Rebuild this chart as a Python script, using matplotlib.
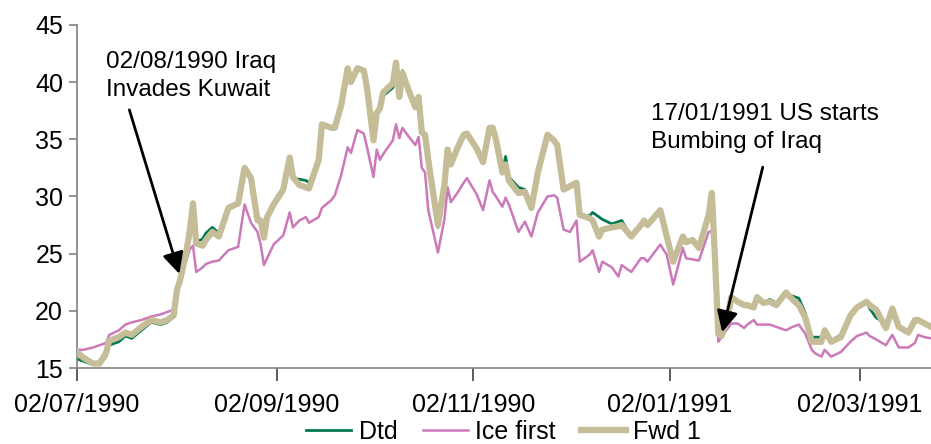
import matplotlib
matplotlib.use("Agg")
import matplotlib.pyplot as plt
import matplotlib.dates as mdates
import pandas as pd

plt.rcParams['font.family'] = ['Liberation Sans', 'DejaVu Sans']

# --- data (USD/bbl) ---
dates = [
    "02/07/1990", "04/07/1990", "07/07/1990", "09/07/1990", "11/07/1990", "12/07/1990",
    "15/07/1990", "17/07/1990", "19/07/1990", "22/07/1990", "25/07/1990", "28/07/1990",
    "30/07/1990", "01/08/1990", "02/08/1990", "03/08/1990", "05/08/1990", "06/08/1990",
    "07/08/1990", "08/08/1990", "10/08/1990", "11/08/1990", "13/08/1990", "15/08/1990",
    "18/08/1990", "21/08/1990", "23/08/1990", "25/08/1990", "27/08/1990", "28/08/1990",
    "29/08/1990", "30/08/1990", "01/09/1990", "04/09/1990", "06/09/1990", "07/09/1990",
    "09/09/1990", "11/09/1990", "12/09/1990", "15/09/1990", "16/09/1990", "19/09/1990",
    "20/09/1990", "22/09/1990", "24/09/1990", "25/09/1990", "27/09/1990", "29/09/1990",
    "30/09/1990", "02/10/1990", "03/10/1990", "04/10/1990", "05/10/1990", "08/10/1990",
    "09/10/1990", "10/10/1990", "11/10/1990", "13/10/1990", "15/10/1990", "16/10/1990",
    "17/10/1990", "18/10/1990", "19/10/1990", "22/10/1990", "24/10/1990", "25/10/1990",
    "26/10/1990", "28/10/1990", "30/10/1990", "31/10/1990", "03/11/1990", "05/11/1990",
    "07/11/1990", "08/11/1990", "09/11/1990", "11/11/1990", "12/11/1990", "13/11/1990",
    "16/11/1990", "18/11/1990", "20/11/1990", "22/11/1990", "25/11/1990", "27/11/1990",
    "28/11/1990", "30/11/1990", "02/12/1990", "04/12/1990", "05/12/1990", "08/12/1990",
    "09/12/1990", "11/12/1990", "12/12/1990", "15/12/1990", "17/12/1990", "18/12/1990",
    "21/12/1990", "24/12/1990", "25/12/1990", "26/12/1990", "30/12/1990", "01/01/1991",
    "03/01/1991", "06/01/1991", "07/01/1991", "09/01/1991", "11/01/1991", "14/01/1991",
    "15/01/1991", "16/01/1991", "17/01/1991", "18/01/1991", "20/01/1991", "21/01/1991",
    "23/01/1991", "25/01/1991", "26/01/1991", "28/01/1991", "29/01/1991", "31/01/1991",
    "02/02/1991", "04/02/1991", "07/02/1991", "09/02/1991", "11/02/1991", "13/02/1991",
    "15/02/1991", "16/02/1991", "18/02/1991", "19/02/1991", "21/02/1991", "24/02/1991",
    "27/02/1991", "01/03/1991", "04/03/1991", "05/03/1991", "07/03/1991", "10/03/1991",
    "12/03/1991", "14/03/1991", "17/03/1991", "19/03/1991", "20/03/1991", "22/03/1991",
    "24/03/1991",
]

fwd1 = [
    16.4, 15.9, 15.4, 15.4, 16.3, 17.4, 17.7, 18.1, 17.9, 18.6, 19.2, 19.0,
    19.2, 19.6, 21.8, 22.7, 25.3, 27.0, 29.4, 25.9, 25.7, 26.2, 26.9, 26.5,
    29.0, 29.4, 32.5, 31.6, 27.9, 27.9, 26.4, 28.2, 29.3, 30.6, 33.4, 31.7,
    31.0, 30.8, 30.7, 33.2, 36.3, 36.0, 36.0, 38.0, 41.2, 40.0, 41.2, 41.0,
    39.5, 34.9, 37.3, 37.7, 39.1, 39.9, 41.7, 38.7, 40.8, 39.2, 37.8, 38.7,
    35.6, 35.4, 33.2, 27.5, 31.0, 34.1, 32.8, 34.2, 35.4, 35.5, 34.2, 33.0,
    36.0, 36.0, 35.0, 32.1, 32.8, 31.4, 30.3, 30.4, 29.0, 32.1, 35.4, 34.9,
    34.5, 30.6, 30.9, 31.2, 28.4, 28.1, 27.9, 26.5, 27.1, 27.3, 27.4, 27.5,
    26.5, 27.5, 27.9, 27.5, 28.8, 26.5, 24.3, 26.5, 26.0, 26.2, 25.5, 28.4,
    30.3, 24.4, 18.0, 17.8, 19.5, 21.2, 20.8, 20.5, 20.5, 20.3, 21.2, 20.7,
    20.8, 20.5, 21.6, 21.0, 20.5, 19.4, 17.3, 17.3, 17.3, 18.3, 17.3, 17.7,
    19.6, 20.3, 20.8, 20.5, 20.1, 18.5, 20.2, 18.6, 18.1, 19.2, 19.2, 18.9,
    18.6,
]

dtd = [
    15.8, 15.6, 15.3, 15.3, 16.0, 17.0, 17.3, 17.8, 17.6, 18.3, 19.0, 18.8,
    19.0, 19.5, 21.8, 22.7, 25.3, 27.0, 29.3, 26.0, 26.3, 26.8, 27.3, 26.8,
    29.0, 29.4, 32.5, 31.6, 28.0, 27.9, 26.5, 28.2, 29.3, 30.6, 33.4, 31.6,
    31.5, 31.4, 31.2, 33.2, 36.3, 36.0, 36.2, 38.0, 41.2, 40.0, 41.3, 41.1,
    39.5, 35.3, 37.3, 37.5, 38.8, 39.5, 41.0, 39.0, 41.0, 39.5, 38.0, 38.7,
    35.6, 35.4, 33.2, 27.3, 31.0, 34.1, 32.8, 34.2, 35.4, 35.5, 34.2, 33.0,
    36.0, 36.0, 35.0, 32.1, 33.5, 31.7, 30.8, 30.6, 29.1, 32.1, 35.4, 34.9,
    34.5, 30.6, 30.9, 31.2, 28.4, 28.3, 28.6, 28.2, 28.0, 27.6, 27.8, 27.9,
    26.5, 27.5, 27.9, 27.5, 28.8, 26.5, 24.3, 26.5, 26.0, 26.2, 25.5, 28.4,
    30.3, 24.4, 18.0, 17.8, 19.5, 21.2, 20.8, 20.5, 20.5, 20.3, 21.2, 20.7,
    21.0, 20.7, 21.5, 21.3, 21.1, 19.8, 17.7, 17.7, 17.7, 18.3, 17.4, 17.9,
    19.6, 20.3, 20.8, 20.2, 19.4, 18.9, 20.0, 18.5, 18.1, 19.0, 19.3, 18.8,
    18.5,
]

ice_first = [
    16.6, 16.6, 16.8, 17.0, 17.2, 17.9, 18.3, 18.8, 19.0, 19.2, 19.5, 19.7,
    19.9, 20.1, 21.8, 22.7, 24.5, 25.4, 25.7, 23.4, 23.8, 24.1, 24.3, 24.4,
    25.3, 25.6, 29.3, 27.7, 26.9, 25.8, 24.0, 24.6, 25.8, 26.6, 28.6, 27.3,
    27.9, 28.2, 27.7, 28.2, 29.0, 29.7, 30.1, 31.9, 34.3, 33.8, 35.8, 35.5,
    34.3, 31.7, 34.1, 33.2, 33.7, 34.9, 36.3, 35.1, 36.0, 35.2, 34.5, 35.2,
    32.5, 32.1, 28.8, 25.1, 28.0, 30.8, 29.5, 30.3, 31.2, 31.6, 30.2, 28.8,
    31.4, 30.4, 30.0, 29.1, 29.9, 29.3, 26.9, 27.8, 26.5, 28.6, 30.0, 30.1,
    29.9, 27.1, 26.9, 27.9, 24.3, 24.9, 25.3, 23.4, 24.3, 23.8, 23.0, 24.0,
    23.4, 24.6, 24.6, 24.3, 25.8, 24.9, 22.3, 25.5, 24.6, 24.5, 24.4, 26.9,
    27.0, 24.0, 17.3, 17.7, 18.5, 18.9, 18.9, 18.5, 18.8, 19.2, 18.8, 18.8,
    18.8, 18.6, 18.3, 18.6, 18.8, 18.0, 16.6, 16.3, 16.0, 16.6, 16.0, 16.4,
    17.3, 17.8, 18.1, 17.8, 17.5, 17.0, 17.9, 16.8, 16.8, 17.2, 17.9, 17.7,
    17.6,
]

tick_dates = ["02/07/1990", "02/09/1990", "02/11/1990", "02/01/1991", "02/03/1991"]

x = pd.to_datetime(dates, format="%d/%m/%Y")
ticks = pd.to_datetime(tick_dates, format="%d/%m/%Y")

fig = plt.figure(figsize=(9.31, 4.44), dpi=100)
ax = fig.add_axes([0.0827, 0.171, 0.9173, 0.773])

ax.plot(x, dtd, color='#007A4E', lw=2.0, label='Dtd', zorder=2)
ax.plot(x, ice_first, color='#CC79B9', lw=1.8, label='Ice first', zorder=3)
ax.plot(x, fwd1, color='#C4BD97', lw=4.5, label='Fwd 1', zorder=4)

ax.set_ylim(15, 45)
ax.set_yticks(range(15, 46, 5))
ax.set_xlim(x[0], x[-1])
ax.set_xticks(ticks)
ax.xaxis.set_major_formatter(mdates.DateFormatter('%d/%m/%Y'))

for side in ('top', 'right'):
    ax.spines[side].set_visible(False)
for side in ('left', 'bottom'):
    ax.spines[side].set_color('#808080')
    ax.spines[side].set_linewidth(1.2)
ax.tick_params(axis='y', direction='out', length=6, width=1.2, color='#808080',
               labelsize=18, pad=4)
ax.tick_params(axis='x', direction='out', length=9, width=1.2, color='#404040',
               labelsize=18, pad=9)

# event annotations
ax.text(pd.Timestamp('1990-07-11'), 42.7, '02/08/1990 Iraq\nInvades Kuwait',
        fontsize=17.5, va='top', ha='left', linespacing=1.35)
ax.annotate('', xy=(pd.Timestamp('1990-08-03'), 23.0),
            xytext=(pd.Timestamp('1990-07-18'), 37.8),
            arrowprops=dict(arrowstyle='-|>', color='black', lw=2,
                            mutation_scale=32), zorder=6)

ax.text(pd.Timestamp('1990-12-27'), 38.2, '17/01/1991 US starts\nBumbing of Iraq',
        fontsize=17.5, va='top', ha='left', linespacing=1.35)
ax.annotate('', xy=(pd.Timestamp('1991-01-18'), 17.9),
            xytext=(pd.Timestamp('1991-01-31'), 32.8),
            arrowprops=dict(arrowstyle='-|>', color='black', lw=2,
                            mutation_scale=32), zorder=6)

fig.legend(loc='center', bbox_to_anchor=(0.541, 0.028), ncol=3, frameon=False,
           fontsize=18, handlelength=1.8, handletextpad=0.3, columnspacing=1.0,
           borderaxespad=0)

fig.savefig('out.png', dpi=100)
